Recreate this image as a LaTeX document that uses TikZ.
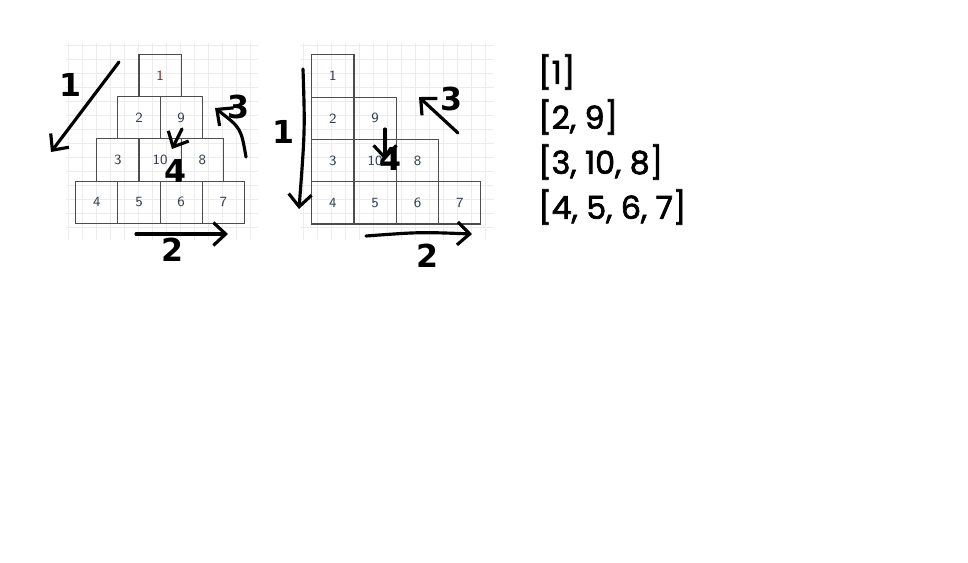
\documentclass[tikz,border=0pt]{standalone}
\usepackage{fontspec}
\newfontfamily\listfont[FakeBold=2.2]{Poppins}
\newfontfamily\handfont{DejaVu Sans}
\usetikzlibrary{arrows.meta}
\definecolor{cellline}{HTML}{4D4D4D}
\definecolor{celltext}{HTML}{34404F}
\definecolor{topred}{HTML}{8A2A1E}
\tikzset{
  cell/.style={draw=cellline,line width=0.6pt,minimum size=0.844cm,inner sep=0pt,
    text=celltext,font=\sffamily\footnotesize},
  hand/.style={line width=1.8pt,line cap=round,-{Straight Barb[length=7pt,width=13pt,line width=1.8pt]}},
  handlab/.style={font=\handfont\bfseries\fontsize{18}{18}\selectfont,inner sep=0pt},
  row/.style={font=\listfont\fontsize{18}{18}\selectfont,anchor=west,inner sep=0pt}
}
\begin{document}
\begin{tikzpicture}[x=0.02cm,y=-0.02cm]
  \useasboundingbox (0,0) rectangle (968,562);
  % faint paper grid behind both drawings
  \foreach \x in {68,82,...,256}\draw[gray!15] (\x,43)--(\x,240);
  \foreach \y in {45,59,...,240}\draw[gray!15] (66,\y)--(258,\y);
  \foreach \x in {303,317,...,492}\draw[gray!15] (\x,43)--(\x,240);
  \foreach \y in {45,59,...,240}\draw[gray!15] (300,\y)--(494,\y);
  % pyramid: rows centred on each other
  \foreach \lab [count=\i from 0] in {4,5,6,7}
     \node[cell] (p4\i) at (96.8+\i*42.2,202.2) {\lab};
  \foreach \lab [count=\i from 0] in {3,10,8}
     \node[cell] (p3\i) at (117.9+\i*42.2,160) {\lab};
  \foreach \lab [count=\i from 0] in {2,9}
     \node[cell] (p2\i) at (139+\i*42.2,117.8) {\lab};
  \node[cell,text=topred] (p10) at (160.1,75.6) {1};
  % staircase: rows pushed to the left edge
  \foreach \lab [count=\i from 0] in {4,5,6,7}
     \node[cell] (s4\i) at (332.9+\i*42.3,202.9) {\lab};
  \foreach \lab [count=\i from 0] in {3,10,8}
     \node[cell] (s3\i) at (332.9+\i*42.3,160.6) {\lab};
  \foreach \lab [count=\i from 0] in {2,9}
     \node[cell] (s2\i) at (332.9+\i*42.3,118.3) {\lab};
  \node[cell] (s10) at (332.9,76) {1};
  % hand-drawn order marks, pyramid
  \coordinate (pa1) at (119,62);   \coordinate (pb1) at (51,152);
  \coordinate (pa2) at (136,234);  \coordinate (pb2) at (228,234);
  \coordinate (pa3) at (246,157);  \coordinate (pb3) at (215,108);
  \coordinate (pa4) at (182,129);  \coordinate (pb4) at (172,149);
  \draw[hand] (pa1)--(pb1);
  \draw[hand] (pa2)--(pb2);
  \draw[hand] (pa3) .. controls (241,128) .. (pb3);
  \draw[hand] (pa4)--(pb4);
  \node[handlab] (pl1) at (71,85) {1};
  \node[handlab] (pl2) at (173,250) {2};
  \node[handlab] (pl3) at (239,107) {3};
  \node[handlab] (pl4) at (176,171) {4};
  % hand-drawn order marks, staircase
  \coordinate (sa1) at (303,69);   \coordinate (sb1) at (299,209);
  \coordinate (sa2) at (366,236);  \coordinate (sb2) at (472,234);
  \coordinate (sa3) at (458,133);  \coordinate (sb3) at (419,97);
  \coordinate (sa4) at (385,129);  \coordinate (sb4) at (385,160);
  \draw[hand] (sa1) .. controls (305,130) .. (sb1);
  \draw[hand] (sa2) .. controls (420,232) .. (sb2);
  \draw[hand] (sa3)--(sb3);
  \draw[hand] (sa4)--(sb4);
  \node[handlab] (sl1) at (284,132) {1};
  \node[handlab] (sl2) at (427,256) {2};
  \node[handlab] (sl3) at (452,99) {3};
  \node[handlab] (sl4) at (391,159) {4};
  % rows read out
  \node[row] (r1) at (538,72) {[1]};
  \node[row] (r2) at (538,117) {[2, 9]};
  \node[row] (r3) at (538,162) {[3, 10, 8]};
  \node[row] (r4) at (538,207) {[4, 5, 6, 7]};
\end{tikzpicture}
\end{document}
